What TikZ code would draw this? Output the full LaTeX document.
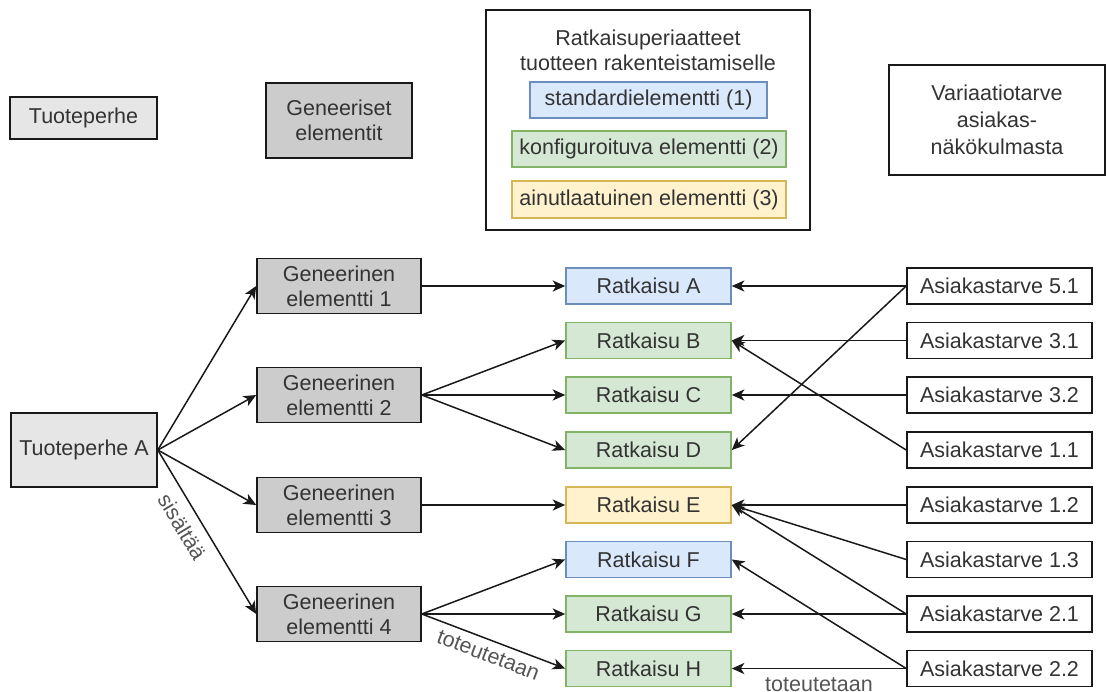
\documentclass[tikz,border=0pt]{standalone}
\usepackage{fontspec}
\setmainfont{Liberation Sans}
\usetikzlibrary{arrows.meta}

\definecolor{txt}{HTML}{333333}
\definecolor{lbl}{HTML}{555555}
\definecolor{lightgray}{HTML}{E6E6E6}
\definecolor{midgray}{HTML}{CCCCCC}
\definecolor{bluefill}{HTML}{DAE8FC}
\definecolor{bluedraw}{HTML}{6C8EBF}
\definecolor{greenfill}{HTML}{D5E8D4}
\definecolor{greendraw}{HTML}{82B366}
\definecolor{yellowfill}{HTML}{FFF2CC}
\definecolor{yellowdraw}{HTML}{D6B656}

\tikzset{
  base/.style={rectangle, inner sep=0pt, align=center, text=txt, line width=0.8pt,
    font=\fontsize{10.75}{12.5}\selectfont},
  plainbox/.style={base, draw=black!90, fill=white},
  familybox/.style={base, draw=black!90, fill=lightgray},
  genbox/.style={base, draw=black!90, fill=midgray},
  stdbox/.style={base, draw=bluedraw, fill=bluefill},
  confbox/.style={base, draw=greendraw, fill=greenfill},
  uniqbox/.style={base, draw=yellowdraw, fill=yellowfill},
  solbox/.style={minimum width=82.5pt, minimum height=18pt},
  needbox/.style={plainbox, minimum width=92.5pt, minimum height=18pt},
  gbox/.style={genbox, minimum width=82pt, minimum height=27.5pt},
  link/.style={draw=black!90, line width=0.75pt,
    -{Stealth[length=6.3pt, width=5.6pt, inset=1.8pt]}},
  edgelabel/.style={text=lbl, inner sep=3.5pt, font=\fontsize{10.75}{12.5}\selectfont}
}

\begin{document}
\begin{tikzpicture}[x=0.5pt, y=-0.5pt]
  \useasboundingbox (0,0) rectangle (1107,691);

  % column headings
  \node[familybox, minimum width=73.5pt, minimum height=21pt] (hfamily) at (83.5,118) {Tuoteperhe};
  \node[genbox, minimum width=73pt, minimum height=37.5pt] (hgeneric) at (339,120.5) {Geneeriset\\elementit};
  \node[plainbox, minimum width=162pt, minimum height=110pt] (hprinciples) at (648,120) {};
  \node[base, text=txt] (htitle) at (648,50) {Ratkaisuperiaatteet\\tuotteen rakenteistamiselle};
  \node[stdbox, minimum width=118.5pt, minimum height=18pt] (kstd) at (648.5,100) {standardielementti (1)};
  \node[confbox, minimum width=137pt, minimum height=18pt] (kconf) at (649,149) {konfiguroituva elementti (2)};
  \node[uniqbox, minimum width=137pt, minimum height=18.5pt] (kuniq) at (649,199.5) {ainutlaatuinen elementti (3)};
  \node[plainbox, minimum width=108pt, minimum height=55pt] (hneed) at (997,120)
    {Variaatiotarve\\[1pt]asiakas-\\[1pt]näkökulmasta};

  % product family
  \node[familybox, minimum width=73pt, minimum height=37pt] (fam) at (84,450) {Tuoteperhe A};

  % generic elements
  \node[gbox] (g1) at (339,286) {Geneerinen\\elementti 1};
  \node[gbox] (g2) at (339,395) {Geneerinen\\elementti 2};
  \node[gbox] (g3) at (339,505) {Geneerinen\\elementti 3};
  \node[gbox] (g4) at (339,614) {Geneerinen\\elementti 4};

  % solutions
  \node[stdbox, solbox]  (rA) at (648.5,286)   {Ratkaisu A};
  \node[confbox, solbox] (rB) at (648.5,340.5) {Ratkaisu B};
  \node[confbox, solbox] (rC) at (648.5,395)   {Ratkaisu C};
  \node[confbox, solbox] (rD) at (648.5,450)   {Ratkaisu D};
  \node[uniqbox, solbox] (rE) at (648.5,505)   {Ratkaisu E};
  \node[stdbox, solbox]  (rF) at (648.5,559.5) {Ratkaisu F};
  \node[confbox, solbox] (rG) at (648.5,614)   {Ratkaisu G};
  \node[confbox, solbox] (rH) at (648.5,668.5) {Ratkaisu H};

  % customer needs
  \node[needbox] (n51) at (999.5,286)   {Asiakastarve 5.1};
  \node[needbox] (n31) at (999.5,340.5) {Asiakastarve 3.1};
  \node[needbox] (n32) at (999.5,395)   {Asiakastarve 3.2};
  \node[needbox] (n11) at (999.5,450)   {Asiakastarve 1.1};
  \node[needbox] (n12) at (999.5,505)   {Asiakastarve 1.2};
  \node[needbox] (n13) at (999.5,559.5) {Asiakastarve 1.3};
  \node[needbox] (n21) at (999.5,614)   {Asiakastarve 2.1};
  \node[needbox] (n22) at (999.5,668.5) {Asiakastarve 2.2};

  % family contains generic elements
  \draw[link] (fam.east) -- (g1.west);
  \draw[link] (fam.east) -- (g2.west);
  \draw[link] (fam.east) -- (g3.west);
  \draw[link] (fam.east) -- node[edgelabel, sloped, pos=0.41, below=1.5pt] {sisältää} (g4.west);

  % generic elements realised by solutions
  \draw[link] (g1.east) -- (rA.west);
  \draw[link] (g2.east) -- (rB.west);
  \draw[link] (g2.east) -- (rC.west);
  \draw[link] (g2.east) -- (rD.west);
  \draw[link] (g3.east) -- (rE.west);
  \draw[link] (g4.east) -- (rF.west);
  \draw[link] (g4.east) -- (rG.west);
  \draw[link] (g4.east) -- node[edgelabel, sloped, pos=0.5, below=0pt] {toteutetaan} (rH.west);

  % customer needs realised by solutions
  \draw[link] (n51.west) -- (rA.east);
  \draw[link] (n51.west) -- (rD.east);
  \draw[link] (n31.west) -- (rB.east);
  \draw[link] (n32.west) -- (rC.east);
  \draw[link] (n11.west) -- (rB.east);
  \draw[link] (n12.west) -- (rE.east);
  \draw[link] (n13.west) -- (rE.east);
  \draw[link] (n21.west) -- (rE.east);
  \draw[link] (n21.west) -- (rG.east);
  \draw[link] (n22.west) -- (rF.east);
  \draw[link] (n22.west) -- node[edgelabel, pos=0.5, below=0.5pt] {toteutetaan} (rH.east);
\end{tikzpicture}
\end{document}
